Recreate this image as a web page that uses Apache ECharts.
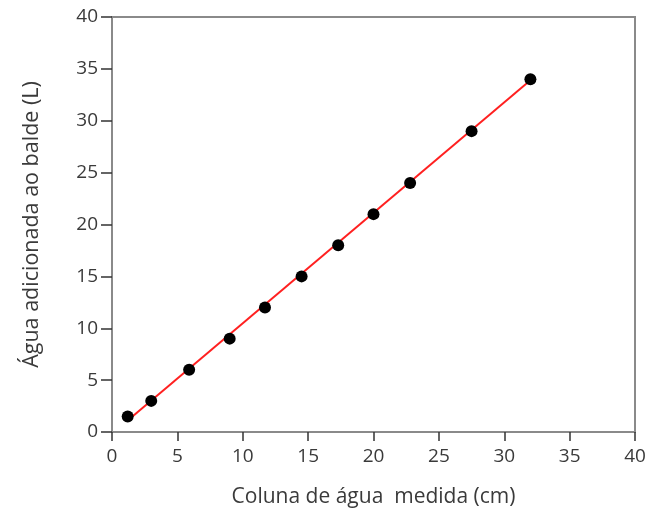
<!DOCTYPE html>
<html>
<head>
<meta charset="utf-8">
<script src="https://cdn.jsdelivr.net/npm/echarts@6/dist/echarts.min.js"></script>
<style>html,body{margin:0;padding:0;background:#fff}#c{width:649px;height:510px}</style>
</head>
<body>
<div id="c"></div>
<script>
var xValues = [1.2, 3, 5.9, 9, 11.7, 14.5, 17.3, 20, 22.8, 27.5, 32];
var yValues = [1.5, 3, 6, 9, 12, 15, 18, 21, 24, 29, 34];
var fitX = [1.2, 32];
var fitY = [1.1, 33.9];
var xTitle = 'Coluna de água  medida (cm)';
var yTitle = 'Água adicionada ao balde (L)';

var pts = xValues.map(function (x, i) { return [x, yValues[i]]; });
var fit = fitX.map(function (x, i) { return [x, fitY[i]]; });
var font = 'Open Sans';
var chart = echarts.init(document.getElementById('c'));
chart.setOption({
  animation: false,
  grid: { left: 112, right: 14, top: 17, bottom: 78, show: true, borderColor: '#8a8a8a', borderWidth: 2, containLabel: false, outerBoundsMode: 'none' },
  xAxis: {
    type: 'value', min: 0, max: 40, interval: 5,
    name: xTitle, nameLocation: 'middle', nameGap: 55,
    nameTextStyle: { fontFamily: font, fontSize: 21, color: '#3a3a3a' },
    axisLine: { lineStyle: { color: '#8a8a8a', width: 2 } },
    axisTick: { show: true, length: 9, lineStyle: { color: '#333', width: 1.5 } },
    axisLabel: { fontFamily: font, fontSize: 19, color: '#3a3a3a', margin: 15 },
    splitLine: { show: false }
  },
  yAxis: {
    type: 'value', min: 0, max: 40, interval: 5,
    name: yTitle, nameLocation: 'middle', nameGap: 69,
    nameTextStyle: { fontFamily: font, fontSize: 21.5, color: '#3a3a3a' },
    axisLine: { lineStyle: { color: '#8a8a8a', width: 2 } },
    axisTick: { show: true, length: 11, lineStyle: { color: '#333', width: 1.5 } },
    axisLabel: { fontFamily: font, fontSize: 19, color: '#3a3a3a', margin: 14 },
    splitLine: { show: false }
  },
  series: [
    { type: 'line', data: fit, symbol: 'none', lineStyle: { color: '#ff2020', width: 2 }, z: 2 },
    { type: 'scatter', data: pts, symbol: 'circle', symbolSize: 12, itemStyle: { color: '#000', opacity: 1 }, z: 3 }
  ]
});
</script>
</body>
</html>
